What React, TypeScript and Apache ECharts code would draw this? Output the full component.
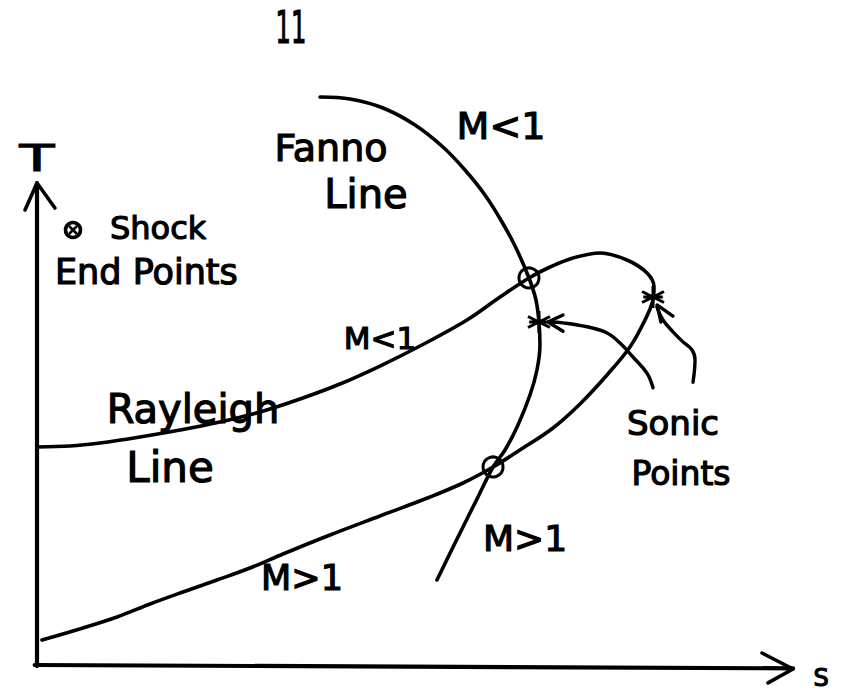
import React, { useEffect, useRef } from "react";
import * as echarts from "echarts";

// s (entropy) and T (temperature), origin at the axes' corner
const fannoLine: number[][] = [
  [36.85, 101.43], [40.76, 101.07], [45.05, 99.46], [49.22, 96.43], [52.86, 92.5],
  [55.73, 88.39], [58.33, 83.93], [60.55, 79.11], [62.37, 74.46], [64.06, 69.11],
  [64.97, 65.18], [65.36, 61.25], [65.49, 57.14], [65.1, 52.68], [64.19, 48.21],
  [62.63, 42.86], [60.94, 38.39], [59.38, 35.36], [57.42, 30.0], [54.82, 22.86],
  [52.08, 15.18],
];

const rayleighLine: number[][] = [
  [0, 38.93], [4.3, 39.11], [8.2, 39.64], [13.41, 40.71], [18.62, 41.96],
  [23.83, 43.39], [29.04, 45.18], [34.24, 47.5], [39.45, 50.18], [44.66, 53.39],
  [49.87, 56.96], [55.99, 61.61], [60.29, 65.71], [64.06, 69.11], [66.8, 71.07],
  [69.79, 72.68], [73.31, 73.57], [76.82, 72.32], [79.43, 70.0], [80.34, 67.5],
  [80.21, 65.18], [79.17, 61.61], [77.21, 56.79], [74.22, 51.79], [70.7, 46.61],
  [67.19, 42.32], [62.89, 38.39], [59.38, 35.36], [55.47, 32.5], [51.17, 30.0],
  [44.66, 26.61], [38.15, 23.21], [32.03, 19.82], [27.73, 17.32], [23.44, 15.18],
  [19.01, 13.04], [14.71, 10.89], [10.42, 8.57], [5.99, 6.61], [0.65, 4.46],
];

const shockEndPoints: number[][] = [[64.06, 69.11], [59.38, 35.36]];
const sonicPoints: number[][] = [[65.36, 61.25], [80.21, 65.71]];

const sonicArrowFanno: number[][] = [
  [80.21, 49.5], [79.43, 52.1], [77.6, 55.0], [75.91, 57.5], [74.22, 59.3],
  [71.61, 60.4], [68.49, 61.1], [66.8, 61.25],
];
const sonicArrowFannoHead: number[][] = [[68.49, 62.5], [66.54, 61.25], [68.49, 59.6]];
const sonicArrowRayleigh: number[][] = [
  [85.42, 50.5], [85.68, 54.5], [85.29, 56.25], [84.11, 57.7], [82.81, 59.5],
  [81.51, 61.6], [80.73, 63.9],
];
const sonicArrowRayleighHead: number[][] = [[82.81, 62.3], [80.73, 64.3], [81.25, 61.25]];

const tAxisLine: number[][] = [[0, -0.2], [0, 86.07]];
const tAxisHead: number[][] = [[-1.56, 81.25], [0, 86.07], [2.34, 81.6]];
const sAxisLine: number[][] = [[-0.3, 0], [98.44, -0.6]];
const sAxisHead: number[][] = [[94.4, 2.14], [98.44, -0.71], [95.18, -3.2]];

const FONT = "'DejaVu Sans', 'Liberation Sans', sans-serif";
const INK = "#000";

function stroke(name: string, data: number[][], width: number, smooth: number | boolean = false) {
  return {
    name,
    type: "line",
    data,
    smooth,
    symbol: "none",
    clip: false,
    silent: true,
    lineStyle: { color: INK, width, cap: "round", join: "round", opacity: 1 },
    z: 3,
  };
}

function label(text: string, x: number, y: number, size: number, align = "center", scaleX = 1) {
  return {
    type: "text",
    x,
    y,
    scaleX,
    z: 10,
    style: {
      text,
      fill: INK,
      font: `${size}px ${FONT}`,
      align,
      verticalAlign: "middle",
      textAlign: align,
      textVerticalAlign: "middle",
      stroke: INK,
      lineWidth: 1.2,
    },
  };
}

export default function App() {
  const ref = useRef<HTMLDivElement>(null);
  useEffect(() => {
    if (!ref.current) return;
    const chart = echarts.init(ref.current, undefined, { renderer: "svg" });
    chart.setOption({
      animation: false,
      backgroundColor: "#fff",
      grid: { left: 6.28, right: 40, top: 49, bottom: 5.6 },
      xAxis: {
        type: "value", min: -4, max: 100,
        axisLine: { show: false }, axisTick: { show: false },
        axisLabel: { show: false }, splitLine: { show: false },
      },
      yAxis: {
        type: "value", min: -4, max: 110,
        axisLine: { show: false }, axisTick: { show: false },
        axisLabel: { show: false }, splitLine: { show: false },
      },
      series: [
        stroke("T axis", tAxisLine, 4.2),
        stroke("T arrow", tAxisHead, 3.6),
        stroke("s axis", sAxisLine, 4.2),
        stroke("s arrow", sAxisHead, 3.6),
        stroke("Fanno Line", fannoLine, 3.6, 0.35),
        stroke("Rayleigh Line", rayleighLine, 3.6, 0.35),
        stroke("Sonic arrow 1", sonicArrowFanno, 3.4, 0.4),
        stroke("Sonic arrow 1 head", sonicArrowFannoHead, 3.4),
        stroke("Sonic arrow 2", sonicArrowRayleigh, 3.4, 0.4),
        stroke("Sonic arrow 2 head", sonicArrowRayleighHead, 3.4),
        {
          name: "Shock End Points",
          type: "scatter",
          data: shockEndPoints,
          symbol: "circle",
          symbolSize: 20,
          clip: false,
          itemStyle: { color: "rgba(0,0,0,0)", borderColor: INK, borderWidth: 3, opacity: 1 },
          z: 5,
        },
        {
          name: "Sonic Points",
          type: "scatter",
          data: sonicPoints,
          symbol: "path://M10,0L10,20M1,5L19,15M1,15L19,5M2,10L18,10",
          symbolSize: 22,
          clip: false,
          itemStyle: { color: "rgba(0,0,0,0)", borderColor: INK, borderWidth: 3, opacity: 1 },
          z: 5,
        },
      ],
      graphic: [
        label("11", 291, 28, 44, "center", 0.55),
        label("T", 37, 158, 38, "center", 1.5),
        {
          type: "group",
          x: 73,
          y: 230,
          children: [
            { type: "circle", shape: { cx: 0, cy: 0, r: 7.5 }, style: { fill: "#fff", stroke: INK, lineWidth: 3.5 } },
            { type: "line", shape: { x1: -4, y1: -4, x2: 4, y2: 4 }, style: { stroke: INK, lineWidth: 2.5 } },
            { type: "line", shape: { x1: -4, y1: 4, x2: 4, y2: -4 }, style: { stroke: INK, lineWidth: 2.5 } },
          ],
        },
        label("Shock", 110, 228, 32, "left"),
        label("End Points", 55, 272, 35, "left"),
        label("Fanno", 331, 148, 38),
        label("Line", 366, 194, 40),
        label("M<1", 501, 126, 38),
        label("M<1", 380, 338, 31),
        label("Rayleigh", 193, 409, 40),
        label("Line", 170, 467, 42),
        label("M>1", 302, 578, 35),
        label("M>1", 525, 538, 36),
        label("Sonic", 673, 423, 34),
        label("Points", 681, 473, 33),
        label("S", 821, 678, 24),
      ],
    });
    return () => chart.dispose();
  }, []);
  return (
    <div
      ref={ref}
      style={{ position: "fixed", left: 0, top: 0, width: 845, height: 693, background: "#fff" }}
    />
  );
}
